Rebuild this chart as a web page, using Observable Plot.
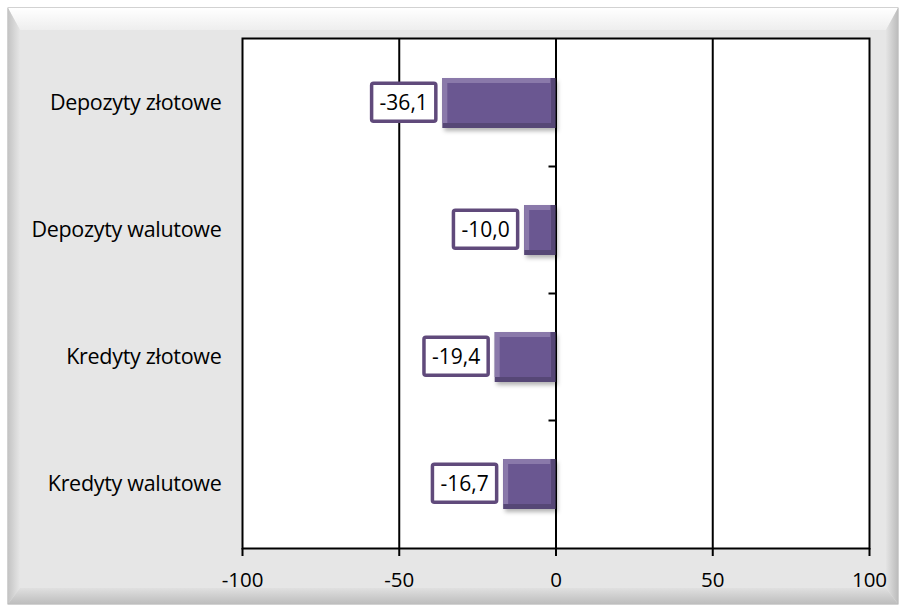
<!DOCTYPE html>
<html><head><meta charset="utf-8">
<script src="https://cdn.jsdelivr.net/npm/d3@7"></script>
<script src="https://cdn.jsdelivr.net/npm/@observablehq/plot@0.6"></script>
<style>body{margin:0;background:#fff;} #chart svg{display:block;}</style>
</head><body><div id="chart"></div>
<script>
const categories = ["Depozyty złotowe", "Depozyty walutowe", "Kredyty złotowe", "Kredyty walutowe"];
const values = [-36.1, -10.0, -19.4, -16.7];
const xTicks = [-100, -50, 0, 50, 100];

const data = categories.map((c, i) => ({category: c, value: values[i]}));
const fmt = v => v.toFixed(1).replace(".", ",");
const FONT = "'Open Sans', sans-serif";

const chart = Plot.plot({
  width: 905, height: 610,
  marginLeft: 242, marginRight: 36, marginTop: 38, marginBottom: 62,
  style: {fontFamily: FONT, fontSize: "20px", color: "#000", background: "transparent", overflow: "visible"},
  x: {domain: [-100, 100], ticks: xTicks, label: null},
  y: {domain: categories, paddingInner: 0.61, paddingOuter: 0.305, label: null},
  marks: [
    Plot.frame({fill: "#fff", stroke: null}),
    Plot.ruleX(xTicks.slice(1, -1), {stroke: "#000", strokeWidth: 2}),
    Plot.frame({stroke: "#000", strokeWidth: 2}),
    Plot.axisX({ticks: xTicks, tickSize: 8, tickPadding: 16, strokeWidth: 2, tickFormat: d => String(d), label: null, fontSize: 20.5}),
    Plot.axisY({tickSize: 0, tickPadding: 21, label: null, fontSize: 21.5, className: "cat-axis"}),
    Plot.barX(data, {y: "category", x: "value", fill: "#574776", className: "bar-shadow"}),
    Plot.barX(data, {y: "category", x: "value", fill: "#8a79aa", insetBottom: 5, insetRight: 5}),
    Plot.barX(data, {y: "category", x: "value", fill: "#6a5791", insetTop: 5, insetBottom: 5, insetLeft: 5, insetRight: 5}),
    Plot.text(data, {y: "category", x: "value", text: d => fmt(d.value), textAnchor: "end", dx: -15, fontSize: 21, fill: "#000", className: "vlabel"})
  ]
});

const svg = d3.select(chart);
const defs = svg.insert("defs", ":first-child");
const grad = (id, x2, y2, c0, c1) => {
  const g = defs.append("linearGradient").attr("id", id).attr("x1", 0).attr("y1", 0).attr("x2", x2).attr("y2", y2);
  g.append("stop").attr("offset", 0).attr("stop-color", c0);
  g.append("stop").attr("offset", 1).attr("stop-color", c1);
};
grad("gTop", 0, 1, "#ffffff", "#eeeeee");
grad("gBot", 0, 1, "#e0e0e0", "#bdbdbd");
grad("gLeft", 1, 0, "#c4c4c4", "#e6e6e6");
grad("gRight", 1, 0, "#e4e4e4", "#bcbcbc");
const shadow = defs.append("filter").attr("id", "shadow").attr("x", "-20%").attr("y", "-20%").attr("width", "150%").attr("height", "160%");
shadow.append("feDropShadow").attr("dx", 2).attr("dy", 3).attr("stdDeviation", 2).attr("flood-color", "#000").attr("flood-opacity", 0.3);

const bg = svg.insert("g", "defs + *");
const L = 8, T = 8, R = 898, B = 604, bw = 22, bs = 12, bb = 16;
bg.append("rect").attr("x", L).attr("y", T).attr("width", R - L).attr("height", B - T).attr("fill", "#e6e6e6").attr("stroke", "#a6a6a6").attr("stroke-width", 1);
bg.append("polygon").attr("points", `${L},${T} ${R},${T} ${R - bs},${T + bw} ${L + bs},${T + bw}`).attr("fill", "url(#gTop)");
bg.append("polygon").attr("points", `${L},${T} ${L + bs},${T + bw} ${L + bs},${B - bb} ${L},${B}`).attr("fill", "url(#gLeft)");
bg.append("polygon").attr("points", `${R},${T} ${R},${B} ${R - bs},${B - bb} ${R - bs},${T + bw}`).attr("fill", "url(#gRight)");
bg.append("polygon").attr("points", `${L},${B} ${L + bs},${B - bb} ${R - bs},${B - bb} ${R},${B}`).attr("fill", "url(#gBot)");

svg.selectAll(".bar-shadow rect").attr("filter", "url(#shadow)");

// small category-axis ticks on the zero line, between categories (pointing left)
const xs = chart.scale("x"), ys = chart.scale("y");
const x0 = xs.apply(0);
const tickG = svg.append("g");
for (let i = 1; i < categories.length; i++) {
  const yb = ys.apply(categories[i]) - (ys.step - ys.bandwidth) / 2;
  tickG.append("line").attr("x1", x0 - 7).attr("x2", x0).attr("y1", yb).attr("y2", yb).attr("stroke", "#000").attr("stroke-width", 2);
}

document.getElementById("chart").appendChild(chart);

svg.selectAll(".cat-axis text").attr("letter-spacing", "-0.3px");

// white boxes with purple border behind value labels
svg.selectAll(".vlabel text").each(function () {
  const b = this.getBBox();
  const tr = this.getAttribute("transform");
  const cy = b.y + b.height / 2;
  const r = d3.select(this.parentNode).insert("rect", () => this)
    .attr("x", b.x - 8).attr("width", b.width + 16)
    .attr("y", cy - 19).attr("height", 38)
    .attr("fill", "#fff").attr("stroke", "#604a7b").attr("stroke-width", 3.5).attr("rx", 2);
  if (tr) r.attr("transform", tr);
});
</script></body></html>
